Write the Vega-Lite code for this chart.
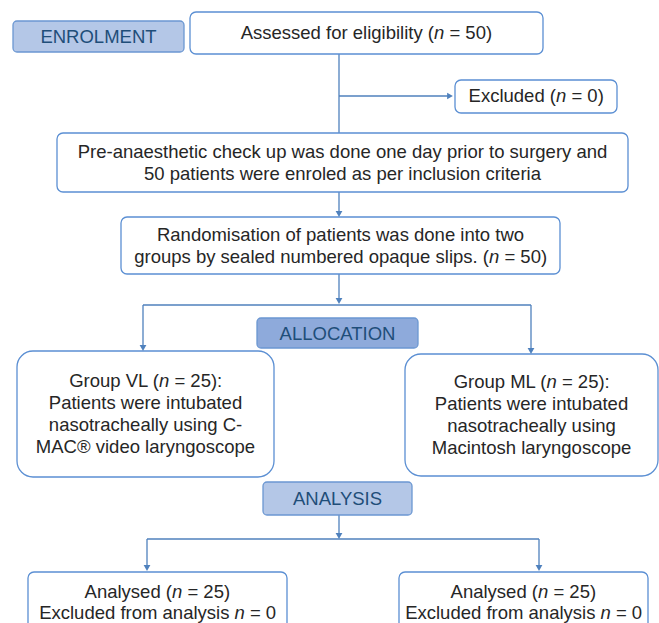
{
  "$schema": "https://vega.github.io/schema/vega-lite/v6.json",
  "width": 659,
  "height": 623,
  "padding": 0,
  "autosize": {"type": "none"},
  "background": "white",
  "config": {"view": {"stroke": null}},
  "datasets": {
    "boxes": [
      {"x": 13, "x2": 184, "y": 21, "y2": 52, "kind": "stage"},
      {"x": 257, "x2": 418, "y": 318, "y2": 348, "kind": "stage-dark"},
      {"x": 263, "x2": 412, "y": 482, "y2": 515, "kind": "stage"},
      {"x": 190, "x2": 543, "y": 12, "y2": 54, "kind": "box"},
      {"x": 455, "x2": 617, "y": 80, "y2": 113, "kind": "box"},
      {"x": 57, "x2": 628, "y": 133, "y2": 192, "kind": "box"},
      {"x": 121, "x2": 560, "y": 217, "y2": 274, "kind": "box"},
      {"x": 28, "x2": 287, "y": 572, "y2": 640, "kind": "box"},
      {"x": 399, "x2": 648, "y": 572, "y2": 640, "kind": "box"},
      {"x": 17, "x2": 274, "y": 351, "y2": 477, "kind": "group"},
      {"x": 405, "x2": 658, "y": 354, "y2": 476, "kind": "group"}
    ],
    "lines": [
      {"x": 339, "y": 54, "x2": 339, "y2": 133},
      {"x": 339, "y": 96, "x2": 450, "y2": 96},
      {"x": 339, "y": 192, "x2": 339, "y2": 214},
      {"x": 339, "y": 274, "x2": 339, "y2": 301},
      {"x": 143, "y": 305, "x2": 531, "y2": 305},
      {"x": 143, "y": 305, "x2": 143, "y2": 348},
      {"x": 531, "y": 305, "x2": 531, "y2": 351},
      {"x": 339, "y": 515, "x2": 339, "y2": 536},
      {"x": 147, "y": 539, "x2": 539, "y2": 539},
      {"x": 147, "y": 539, "x2": 147, "y2": 568},
      {"x": 539, "y": 539, "x2": 539, "y2": 568}
    ],
    "arrows": [
      {"x": 453, "y": 96, "dir": "right"},
      {"x": 339, "y": 217, "dir": "down"},
      {"x": 339, "y": 304, "dir": "down"},
      {"x": 143, "y": 351, "dir": "down"},
      {"x": 531, "y": 354, "dir": "down"},
      {"x": 339, "y": 539, "dir": "down"},
      {"x": 147, "y": 571, "dir": "down"},
      {"x": 539, "y": 571, "dir": "down"}
    ],
    "labels": [
      {"x": 98.5, "y": 37, "t": "ENROLMENT"},
      {"x": 337.5, "y": 333.5, "t": "ALLOCATION"},
      {"x": 337.5, "y": 498.5, "t": "ANALYSIS"}
    ],
    "texts": [
      {"x": 342.5, "y": 152, "t": "Pre-anaesthetic check up was done one day prior to surgery and"},
      {"x": 342.5, "y": 174, "t": "50 patients were enroled as per inclusion criteria"},
      {"x": 340.5, "y": 235, "t": "Randomisation of patients was done into two"},
      {"x": 145.5, "y": 403, "t": "Patients were intubated"},
      {"x": 145.5, "y": 425, "t": "nasotracheally using C-"},
      {"x": 145.5, "y": 447, "t": "MAC® video laryngoscope"},
      {"x": 531.5, "y": 404, "t": "Patients were intubated"},
      {"x": 531.5, "y": 426, "t": "nasotracheally using"},
      {"x": 531.5, "y": 448, "t": "Macintosh laryngoscope"}
    ],
    "ntexts": [
      {"x": 434, "xe": 434, "y": 33, "pre": "Assessed for eligibility (", "post": "= 50)"},
      {"x": 556, "xe": 556, "y": 96, "pre": "Excluded (", "post": "= 0)"},
      {"x": 489, "xe": 489, "y": 257, "pre": "groups by sealed numbered opaque slips. (", "post": "= 50)"},
      {"x": 159, "xe": 159, "y": 380.5, "pre": "Group VL (", "post": "= 25):"},
      {"x": 546.5, "xe": 546.5, "y": 382, "pre": "Group ML (", "post": "= 25):"},
      {"x": 172, "xe": 172, "y": 592, "pre": "Analysed (", "post": "= 25)"},
      {"x": 234.5, "xe": 229.4, "y": 613, "pre": "Excluded from analysis", "post": "= 0"},
      {"x": 538, "xe": 538, "y": 592, "pre": "Analysed (", "post": "= 25)"},
      {"x": 600.5, "xe": 595.4, "y": 613, "pre": "Excluded from analysis", "post": "= 0"}
    ]
  },
  "encoding": {
    "x": {"field": "x", "type": "quantitative", "scale": {"domain": [0, 659], "nice": false, "zero": false}, "axis": null},
    "y": {"field": "y", "type": "quantitative", "scale": {"domain": [0, 623], "nice": false, "zero": false, "reverse": true}, "axis": null}
  },
  "layer": [
    {
      "data": {"name": "lines"},
      "mark": {"type": "rule", "color": "#4f81bd", "strokeWidth": 1.3},
      "encoding": {"x2": {"field": "x2"}, "y2": {"field": "y2"}}
    },
    {
      "data": {"name": "boxes"},
      "transform": [{"filter": "datum.kind === 'stage' || datum.kind === 'stage-dark'"}],
      "mark": {"type": "rect", "cornerRadius": 4, "stroke": "#6b97d2", "strokeWidth": 1.3},
      "encoding": {
        "x2": {"field": "x2"}, "y2": {"field": "y2"},
        "fill": {"field": "kind", "type": "nominal", "scale": {"domain": ["stage", "stage-dark"], "range": ["#b4c7e7", "#8eaadb"]}, "legend": null}
      }
    },
    {
      "data": {"name": "boxes"},
      "transform": [{"filter": "datum.kind === 'box'"}],
      "mark": {"type": "rect", "cornerRadius": 6, "fill": "white", "stroke": "#5b8fd3", "strokeWidth": 1.3},
      "encoding": {"x2": {"field": "x2"}, "y2": {"field": "y2"}}
    },
    {
      "data": {"name": "boxes"},
      "transform": [{"filter": "datum.kind === 'group'"}],
      "mark": {"type": "rect", "cornerRadius": 16, "fill": "white", "stroke": "#5b8fd3", "strokeWidth": 1.3},
      "encoding": {"x2": {"field": "x2"}, "y2": {"field": "y2"}}
    },
    {
      "data": {"name": "arrows"},
      "transform": [{"filter": "datum.dir === 'down'"}],
      "mark": {"type": "point", "shape": "triangle-down", "filled": true, "opacity": 1, "size": 45, "color": "#4f81bd", "yOffset": -3}
    },
    {
      "data": {"name": "arrows"},
      "transform": [{"filter": "datum.dir === 'right'"}],
      "mark": {"type": "point", "shape": "triangle-right", "filled": true, "opacity": 1, "size": 45, "color": "#4f81bd", "xOffset": -3}
    },
    {
      "data": {"name": "labels"},
      "mark": {"type": "text", "font": "Liberation Sans", "fontSize": 18.5, "color": "#1f4e79", "align": "center", "baseline": "middle"},
      "encoding": {"text": {"field": "t"}}
    },
    {
      "data": {"name": "texts"},
      "mark": {"type": "text", "font": "Liberation Sans", "fontSize": 18.5, "color": "#262626", "align": "center", "baseline": "middle"},
      "encoding": {"text": {"field": "t"}}
    },
    {
      "data": {"name": "ntexts"},
      "mark": {"type": "text", "font": "Liberation Sans", "fontSize": 18.5, "color": "#262626", "align": "right", "baseline": "middle"},
      "encoding": {"x": {"field": "xe", "type": "quantitative"}, "text": {"field": "pre"}}
    },
    {
      "data": {"name": "ntexts"},
      "mark": {"type": "text", "font": "Liberation Sans", "fontSize": 18.5, "fontStyle": "italic", "color": "#262626", "align": "left", "baseline": "middle"},
      "encoding": {"text": {"value": "n"}}
    },
    {
      "data": {"name": "ntexts"},
      "mark": {"type": "text", "font": "Liberation Sans", "fontSize": 18.5, "color": "#262626", "align": "left", "baseline": "middle", "dx": 15.4},
      "encoding": {"text": {"field": "post"}}
    }
  ]
}
